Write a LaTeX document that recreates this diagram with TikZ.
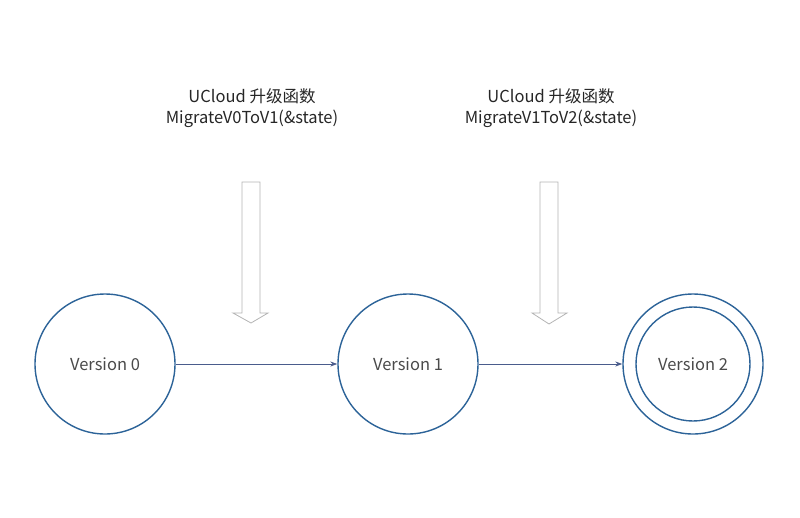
\documentclass[tikz,border=0pt]{standalone}
\usepackage{fontspec}
\setmainfont{Noto Sans CJK SC}
\usetikzlibrary{arrows.meta}
\definecolor{circ}{HTML}{2C6398}
\definecolor{conn}{HTML}{4A5C8C}
\definecolor{txt}{HTML}{4A4A4A}
\definecolor{blk}{HTML}{B4B4B4}
\tikzset{
  state/.style={circle,draw=circ,line width=1.4pt,minimum size=140pt,inner sep=0pt,text=txt,font=\fontsize{16.5}{18}\selectfont},
  inner/.style={circle,draw=circ,line width=1.4pt,minimum size=114pt,inner sep=0pt},
  conn/.style={draw=conn,line width=0.8pt,-{Stealth[length=7pt,width=5pt]}},
  lbl/.style={align=center,text=black!85,font=\fontsize{16.5}{21}\selectfont},
  blkarrow/.style={draw=blk,fill=white,line width=0.8pt}
}
\begin{document}
\begin{tikzpicture}[x=1pt,y=-1pt]
\useasboundingbox (0,0) rectangle (800,517);
\node[state] (v0) at (105,364) {Version 0};
\node[state] (v1) at (408,364) {Version 1};
\node[state] (v2) at (693,364) {Version 2};
\node[inner] (v2in) at (693,364) {};
\draw[conn] (v0) -- (v1);
\draw[conn] (v1) -- (v2);
\node[lbl] (t1) at (252,108) {UCloud 升级函数\\MigrateV0ToV1(\&state)};
\node[lbl] (t2) at (551,108) {UCloud 升级函数\\MigrateV1ToV2(\&state)};
\draw[blkarrow] (242,182) -- (260,182) -- (260,313) -- (268,313) -- (251,323) -- (233,313) -- (242,313) -- cycle;
\draw[blkarrow] (540,182) -- (558,182) -- (558,313) -- (567,313) -- (549,324) -- (532,313) -- (540,313) -- cycle;
\end{tikzpicture}
\end{document}
